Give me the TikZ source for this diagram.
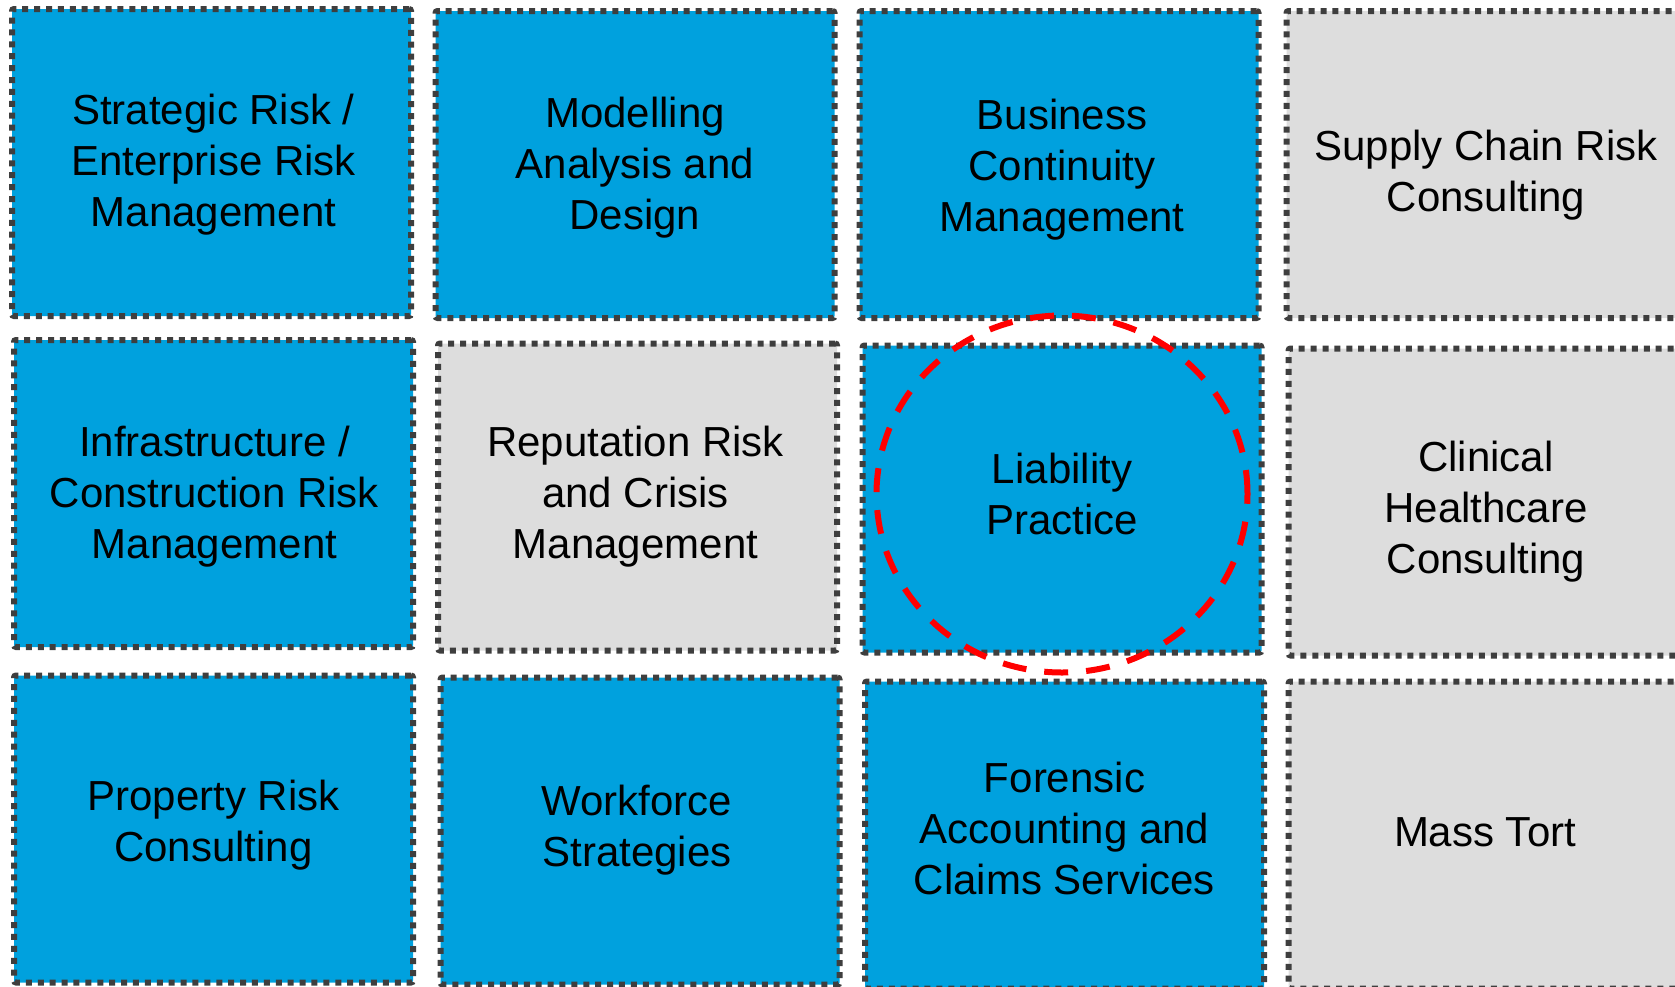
\documentclass[tikz,border=0pt]{standalone}
\usepackage{fontspec}
\setmainfont{Liberation Sans}
\usetikzlibrary{shapes.geometric}

\definecolor{tileblue}{RGB}{0,161,222}
\definecolor{tilegrey}{RGB}{221,221,221}
\definecolor{dotgrey}{RGB}{62,62,62}

\tikzset{
  tile/.style = {rectangle, draw = dotgrey, line width = 6pt,
    dash pattern = on 6pt off 5.9pt, rounded corners = 2pt,
    minimum width = 399pt, minimum height = 307pt, inner sep = 0pt},
  bluetile/.style = {tile, fill = tileblue},
  greytile/.style = {tile, fill = tilegrey},
  tiletext/.style = {align = center, inner sep = 0pt,
    font = \fontsize{42}{51}\selectfont},
  ring/.style = {ellipse, draw = red, line width = 6pt,
    dash pattern = on 24pt off 18pt, minimum width = 371pt,
    minimum height = 357pt, inner sep = 0pt}
}

\begin{document}
\begin{tikzpicture}[x = 1pt, y = -1pt]
\useasboundingbox (0, 0) rectangle (1675, 986);
\clip (0, 0) rectangle (1675, 986);
% top row
\node[bluetile, label = {[tiletext, xshift = 2pt, yshift = -2pt]center:Strategic Risk /\\Enterprise Risk\\Management}] (strategic) at (211.5, 162.5) {};
\node[bluetile, label = {[tiletext, yshift = -3pt]center:Modelling\\Analysis and\\Design}] (modelling) at (635, 164.5) {};
\node[bluetile, label = {[tiletext, xshift = 3pt, yshift = -5pt]center:Business\\Continuity\\Management}] (continuity) at (1059, 164.5) {};
\node[greytile, label = {[tiletext, yshift = -11pt]center:Supply Chain Risk\\Consulting}] (supply) at (1486, 164.5) {};
% middle row
\node[bluetile, label = {[tiletext, xshift = 1pt, yshift = -3pt]center:Infrastructure /\\Construction Risk\\Management}] (infra) at (213.5, 493.5) {};
\node[greytile, label = {[tiletext, xshift = -2pt]center:Reputation Risk\\and Crisis\\Management}] (reputation) at (637.5, 497) {};
\node[bluetile, label = {[tiletext, yshift = 5pt]center:Liability\\Practice}] (liability) at (1062, 499) {};
\node[greytile, label = {[tiletext, xshift = -2pt, yshift = -10pt]center:Clinical\\Healthcare\\Consulting}] (clinical) at (1488, 502) {};
% bottom row
\node[bluetile, label = {[tiletext, yshift = 4pt]center:Property Risk\\Consulting}] (property) at (213.5, 829) {};
\node[bluetile, label = {[tiletext, xshift = -3pt, yshift = 1pt]center:Workforce\\Strategies}] (workforce) at (640, 831) {};
\node[bluetile, label = {[tiletext, yshift = 7pt]center:Forensic\\Accounting and\\Claims Services}] (forensic) at (1064.5, 835) {};
\node[greytile, label = {[tiletext, xshift = -3pt, yshift = 3pt]center:Mass Tort}] (masstort) at (1488, 835) {};
% highlight
\node[ring] (focus) at (1062, 494) {};
\end{tikzpicture}
\end{document}
